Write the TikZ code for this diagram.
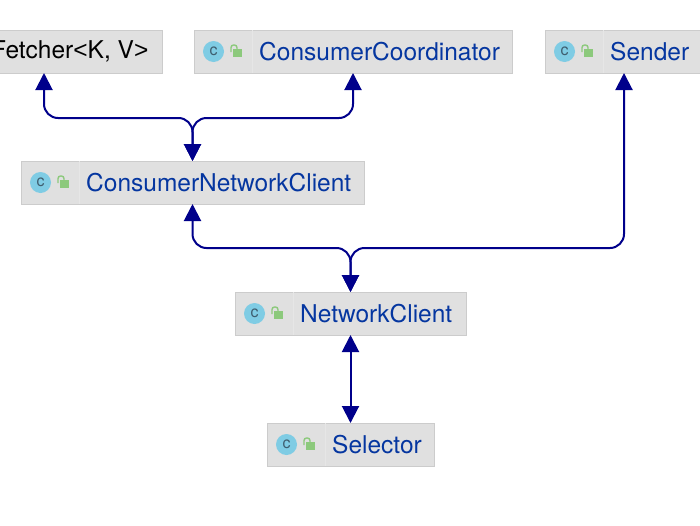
\documentclass[tikz,border=0pt]{standalone}
\usepackage{fontspec}
\setmainfont{TeX Gyre Heros}
\newfontfamily\anglefont{Liberation Sans}
\usetikzlibrary{arrows.meta,calc}
\definecolor{boxfill}{HTML}{E0E0E0}
\definecolor{boxline}{HTML}{CCCCCC}
\definecolor{divline}{HTML}{E6E6E6}
\definecolor{linkblue}{HTML}{00008B}
\definecolor{textblue}{HTML}{0536A0}
\definecolor{iconblue}{HTML}{7FCCE4}
\definecolor{iconc}{HTML}{3F5F70}
\definecolor{lockgreen}{HTML}{8CC97C}
\tikzset{
  x=1pt,y=-1pt,
  cbox/.style={draw=boxline,fill=boxfill,line width=1pt,minimum height=43pt,inner sep=0pt,outer sep=0pt},
  ctext/.style={anchor=west,inner sep=0pt,text=textblue,font=\fontsize{24.5}{26}\selectfont},
  cicon/.style={circle,fill=iconblue,minimum size=21pt,inner sep=0pt,text=iconc,font=\fontsize{16}{16}\selectfont},
  link/.style={draw=linkblue,line width=2pt,rounded corners=14pt,{Triangle[length=17pt,width=17pt]}-{Triangle[length=17pt,width=17pt]}},
  both/.style={draw=linkblue,line width=2pt,{Triangle[length=17pt,width=17pt]}-{Triangle[length=17pt,width=17pt]}}
}
\newcommand{\umlclass}[6][textblue]{% color, name, left, right, top, label
  \pgfmathsetmacro{\cxx}{(#3+#4)/2}
  \pgfmathsetmacro{\cww}{#4-#3}
  \pgfmathsetmacro{\cyy}{#5+21.5}
  \node[cbox,minimum width=\cww pt] (#2) at (\cxx,\cyy) {};
  \draw[divline,line width=.8pt] ($(#2.north west)+(58,0)$) -- ($(#2.south west)+(58,0)$);
  \node[cicon] (#2-icon) at ($(#2.west)+(19.5,0)$) {c};
  \fill[lockgreen] ($(#2.west)+(39,-2.5)$) rectangle ($(#2.west)+(48,5.5)$);
  \draw[lockgreen,line width=1.4pt,rounded corners=2.5pt] ($(#2.west)+(37,0.5)$) -- ($(#2.west)+(37,-6.5)$) -- ($(#2.west)+(43,-6.5)$) -- ($(#2.west)+(43,-2.5)$);
  \node[ctext,text=#1] (#2-label) at ($(#2.west)+(65,0)$) {#6};
}
\begin{document}
\begin{tikzpicture}
\useasboundingbox (0,0) rectangle (700,525);
\clip (0,0) rectangle (700,525);
\fill[white] (0,0) rectangle (700,525);
\umlclass[black]{fetcher}{-74}{162}{30}{Fetcher{\anglefont<}K, V{\anglefont>}}
\umlclass{coord}{194}{512}{30}{ConsumerCoordinator}
\umlclass{sender}{545}{703}{30}{Sender}
\umlclass{cnc}{21}{364}{161}{ConsumerNetworkClient}
\umlclass{nc}{235}{466}{292}{NetworkClient}
\umlclass{sel}{267}{434}{423}{Selector}
\coordinate (j1) at (192.5,118);
\coordinate (j2) at (350.5,248);
\draw[link] (cnc.north) -- (cnc.north |- j1) -| (fetcher.south);
\draw[link] (cnc.north) -- (cnc.north |- j1) -| (coord.south);
\draw[link] (nc.north) -- (nc.north |- j2) -| (cnc.south);
\draw[link] (nc.north) -- (nc.north |- j2) -| (sender.south);
\draw[both] (nc.south) -- (sel.north);
\end{tikzpicture}
\end{document}
